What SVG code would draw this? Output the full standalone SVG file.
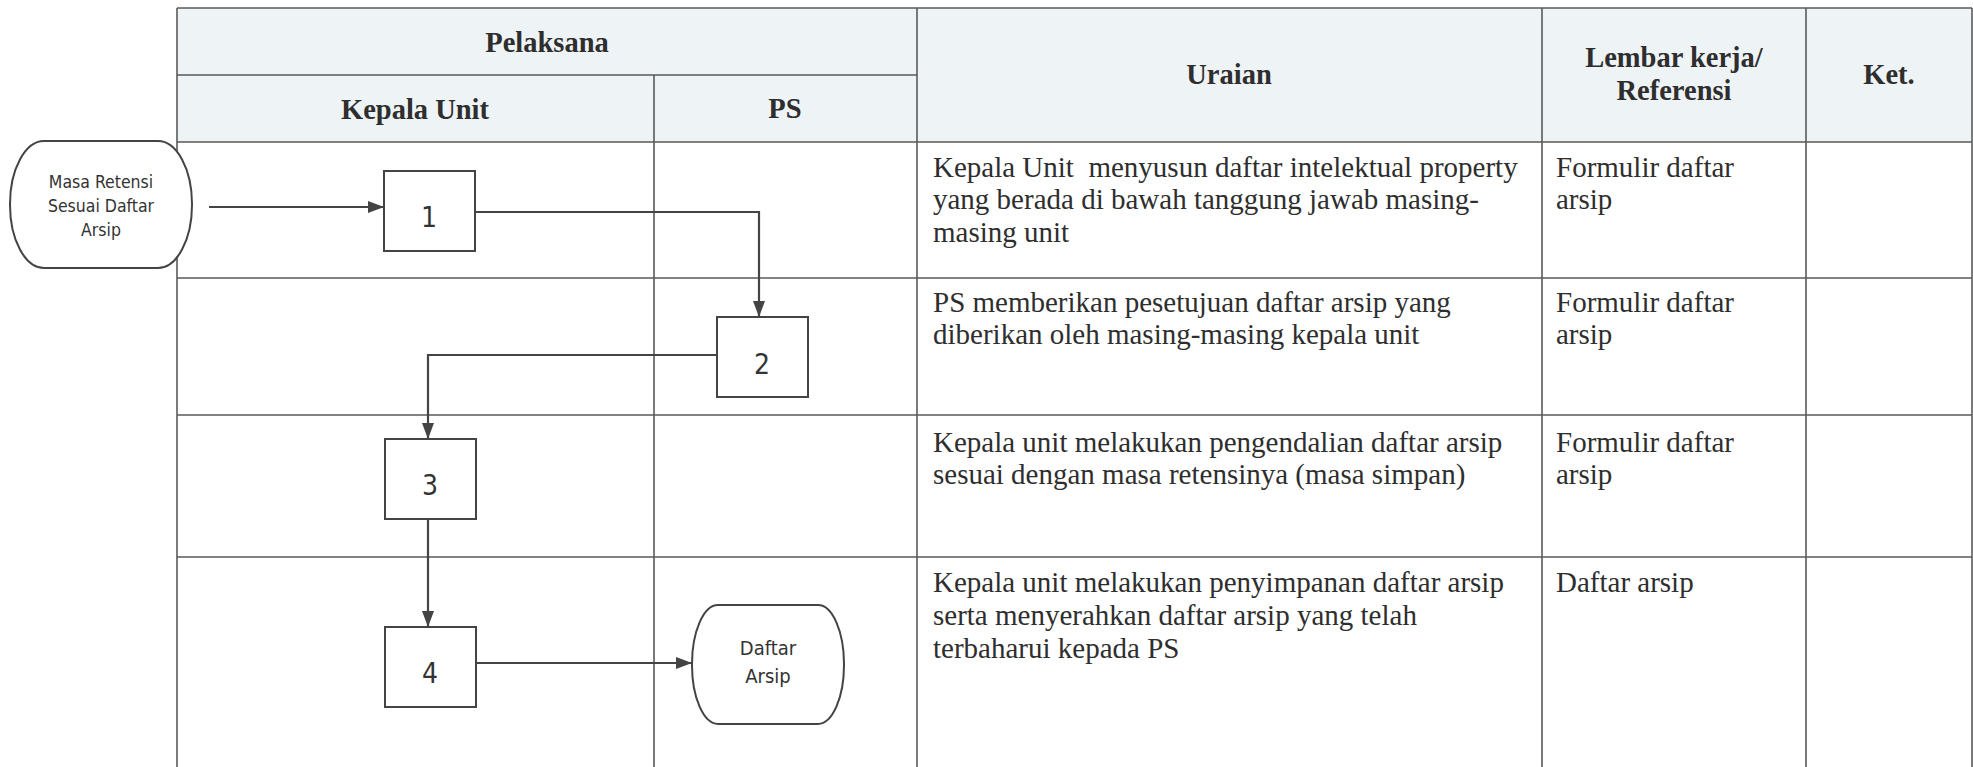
<svg xmlns="http://www.w3.org/2000/svg" width="1973" height="767" viewBox="0 0 1973 767">
<style>
.grid{stroke:#5a5a5a;stroke-width:1.6;fill:none}
.hdr{fill:#eef3f6}
.th{font-family:"Liberation Serif","Times New Roman",serif;font-weight:bold;font-size:28.5px;fill:#2e2e2e;text-anchor:middle}
.td{font-family:"Liberation Serif","Times New Roman",serif;font-size:29px;fill:#2e2e2e}
.box{fill:#fff;stroke:#444;stroke-width:2}
.num{font-family:"DejaVu Sans Condensed","DejaVu Sans",sans-serif;font-stretch:condensed;font-size:28px;fill:#333;text-anchor:middle}
.term{font-family:"DejaVu Sans Condensed","DejaVu Sans",sans-serif;font-stretch:condensed;font-size:17.5px;fill:#333;text-anchor:middle}
.conn{stroke:#444;stroke-width:2.2;fill:none;marker-end:url(#arr)}
</style>
<defs>
<marker id="arr" viewBox="0 0 16 12" refX="16" refY="6" markerWidth="16" markerHeight="12" markerUnits="userSpaceOnUse" orient="auto">
<path d="M0,0 L16,6 L0,12 z" fill="#444"/>
</marker>
</defs>
<rect width="1973" height="767" fill="#fff"/>
<g id="table">
<rect class="hdr" x="177" y="8" width="1795" height="134"/>
<path class="grid" d="M177,8 H1972 M177,75 H917 M177,142 H1972 M177,278 H1972 M177,415 H1972 M177,557 H1972 M177,8 V767 M654,75 V767 M917,8 V767 M1542,8 V767 M1806,8 V767 M1972,8 V767"/>
<text class="th" x="547" y="52">Pelaksana</text>
<text class="th" x="415" y="119">Kepala Unit</text>
<text class="th" x="785" y="118">PS</text>
<text class="th" x="1229" y="84">Uraian</text>
<text class="th" x="1674" y="67">Lembar kerja/</text>
<text class="th" x="1674" y="100">Referensi</text>
<text class="th" x="1889" y="84">Ket.</text>
<text class="td" x="933" y="177" xml:space="preserve">Kepala Unit  menyusun daftar intelektual property</text>
<text class="td" x="933" y="209">yang berada di bawah tanggung jawab masing-</text>
<text class="td" x="933" y="242">masing unit</text>
<text class="td" x="1556" y="177">Formulir daftar</text>
<text class="td" x="1556" y="209">arsip</text>
<text class="td" x="933" y="312">PS memberikan pesetujuan daftar arsip yang</text>
<text class="td" x="933" y="344">diberikan oleh masing-masing kepala unit</text>
<text class="td" x="1556" y="312">Formulir daftar</text>
<text class="td" x="1556" y="344">arsip</text>
<text class="td" x="933" y="452">Kepala unit melakukan pengendalian daftar arsip</text>
<text class="td" x="933" y="484">sesuai dengan masa retensinya (masa simpan)</text>
<text class="td" x="1556" y="452">Formulir daftar</text>
<text class="td" x="1556" y="484">arsip</text>
<text class="td" x="933" y="592">Kepala unit melakukan penyimpanan daftar arsip</text>
<text class="td" x="933" y="625">serta menyerahkan daftar arsip yang telah</text>
<text class="td" x="933" y="658">terbaharui kepada PS</text>
<text class="td" x="1556" y="592">Daftar arsip</text>
</g>
<g id="connectors">
<path class="conn" d="M209,207 H384"/>
<path class="conn" d="M475,212 H759 V317"/>
<path class="conn" d="M717,355 H428 V439"/>
<path class="conn" d="M428,519 V627"/>
<path class="conn" d="M476,663 H692"/>
</g>
<g id="start">
<rect class="box" x="10" y="141" width="182" height="127" rx="34" ry="63"/>
<text class="term" x="101" y="188">Masa Retensi</text>
<text class="term" x="101" y="212">Sesuai Daftar</text>
<text class="term" x="101" y="236">Arsip</text>
</g>
<g id="n1"><rect class="box" x="384" y="171" width="91" height="80"/><text class="num" x="429" y="227">1</text></g>
<g id="n2"><rect class="box" x="717" y="317" width="91" height="80"/><text class="num" x="762" y="374">2</text></g>
<g id="n3"><rect class="box" x="385" y="439" width="91" height="80"/><text class="num" x="430" y="495">3</text></g>
<g id="n4"><rect class="box" x="385" y="627" width="91" height="80"/><text class="num" x="430" y="683">4</text></g>
<g id="end">
<rect class="box" x="692" y="605" width="152" height="119" rx="26" ry="59"/>
<text class="term" x="768" y="655" style="font-size:20px">Daftar</text>
<text class="term" x="768" y="683" style="font-size:20px">Arsip</text>
</g>
</svg>
